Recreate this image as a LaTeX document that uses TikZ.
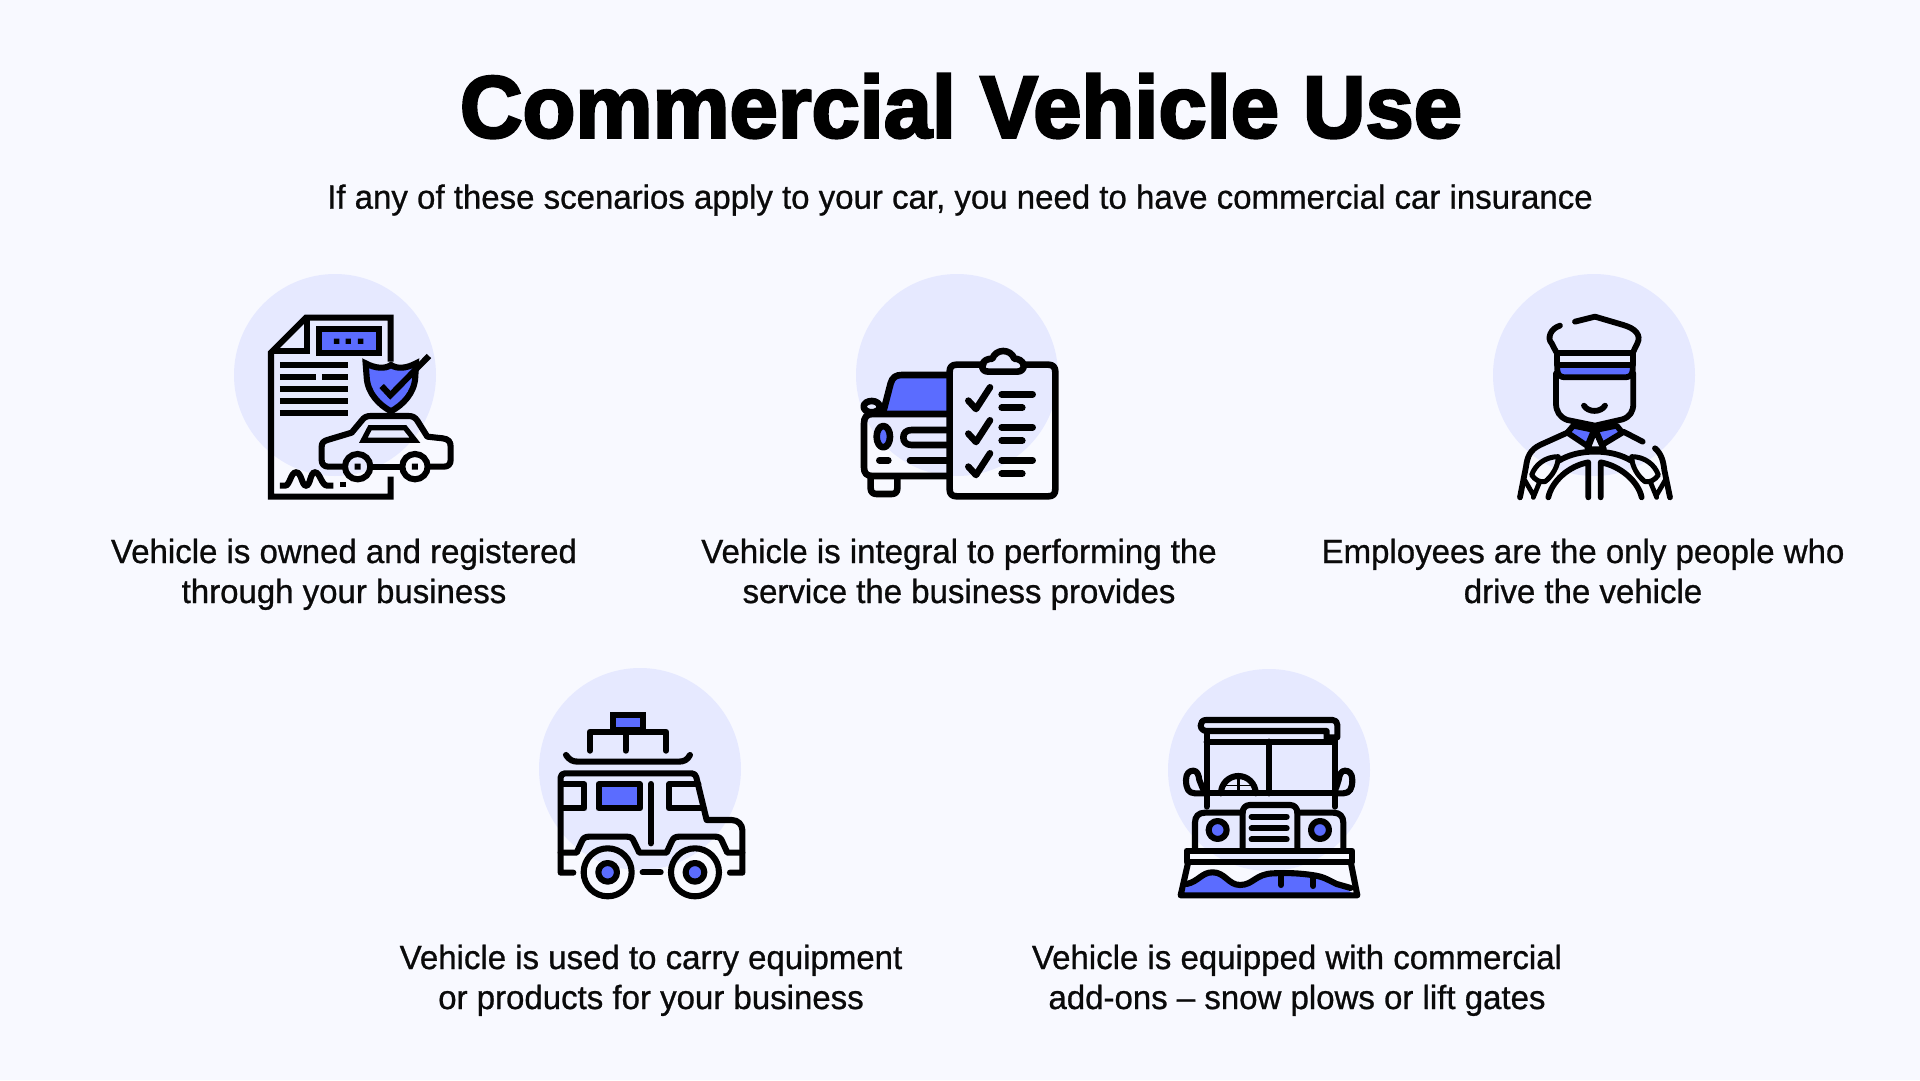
\documentclass[tikz,border=0pt]{standalone}
\usepackage{fontspec}
\setmainfont{Liberation Sans}
\newfontfamily\titlef[FakeBold=3,FakeStretch=0.985]{Liberation Sans Bold}
\newfontfamily\bodyf[FakeBold=0.8,FakeStretch=0.985]{Liberation Sans}
\definecolor{bgc}{HTML}{F8F9FF}
\definecolor{circ}{HTML}{E6E9FF}
\definecolor{blu}{HTML}{5B6CFF}
\definecolor{ink}{HTML}{0A0A0A}
\newcommand{\twolines}[2]{\strut #1\\\strut #2}
\tikzset{
 ico/.style={x=0.3333pt,y=-0.3333pt,line width=6.1pt,draw=black,line join=miter},
 rnd/.style={line cap=round,line join=round},
 blob/.style={circle,fill=circ,draw=none,minimum size=202pt,inner sep=0pt},
 ttl/.style={font=\titlef\fontsize{88}{88}\selectfont,text=black,inner sep=0pt},
 sub/.style={font=\bodyf\fontsize{33.5}{40}\selectfont,text=ink,inner sep=0pt},
 lab/.style={font=\bodyf\fontsize{33.5}{40}\selectfont,text=ink,align=center,inner sep=0pt},
}
\begin{document}
\begin{tikzpicture}[x=1pt,y=-1pt]
\useasboundingbox (0,0) rectangle (1920,1080);
\fill[bgc] (0,0) rectangle (1920,1080);
\node[ttl] (title) at (961,106) {Commercial Vehicle Use};
\node[sub] (subt) at (960,200) {If any of these scenarios apply to your car, you need to have commercial car insurance};
\node[blob] (c1) at (335,375) {};
\node[blob] (c2) at (957,375) {};
\node[blob] (c3) at (1594,375) {};
\node[blob] (c4) at (640,769) {};
\node[blob] (c5) at (1269,770) {};
\node[lab] (t1) at (344,575) {\twolines{Vehicle is owned and registered}{through your business}};
\node[lab] (t2) at (959,575) {\twolines{Vehicle is integral to performing the}{service the business provides}};
\node[lab] (t3) at (1583,575) {\twolines{Employees are the only people who}{drive the vehicle}};
\node[lab] (t4) at (651,981) {\twolines{Vehicle is used to carry equipment}{or products for your business}};
\node[lab] (t5) at (1297,981) {\twolines{Vehicle is equipped with commercial}{add-ons – snow plows or lift gates}};

% icon 1
\begin{scope}[shift={(220,260)},ico]
\draw (512,305) -- (512,173) -- (258,173) -- (153,278) -- (153,710) -- (512,710) -- (512,650);
\draw (262,173) -- (262,272) -- (153,272);
\draw[fill=blu] (296,206) rectangle (477,280);
\fill (342,236) rectangle (358,252) (377,236) rectangle (393,252) (414,236) rectangle (430,252);
\foreach \yy in {315,387,423,459} \draw (180,\yy) -- (385,\yy);
\draw (180,352) -- (288,352) (306,352) -- (385,352);
\draw[fill=blu] (437,310) .. controls (465,325) and (495,328) .. (513,315) .. controls (532,328) and (560,325) .. (588,310) -- (586,350) .. controls (584,400) and (548,435) .. (513,454) .. controls (478,435) and (442,400) .. (440,350) -- cycle;
\draw (485,378) -- (511,406) -- (627,288);
\draw[rnd] (375,620) -- (325,620) .. controls (312,620) and (305,612) .. (305,600) -- (305,560) .. controls (305,548) and (312,543) .. (322,540) -- (395,518) -- (425,482) .. controls (432,472) and (440,468) .. (452,468) -- (565,468) .. controls (578,468) and (585,472) .. (592,482) -- (622,530) -- (668,535) .. controls (685,537) and (692,545) .. (692,560) -- (692,600) .. controls (692,612) and (685,620) .. (672,620) -- (625,620);
\draw (455,620) -- (545,620);
\draw (413,620) circle[radius=38];
\draw (585,620) circle[radius=38];
\fill (404,611) rectangle (422,629) (576,611) rectangle (594,629);
\draw[line width=5.2pt] (430,541) -- (450,503) -- (555,503) -- (585,541) -- cycle;
\draw (180,677) -- (195,677) .. controls (210,677) and (212,637) .. (228,637) .. controls (245,637) and (245,677) .. (258,677) .. controls (272,677) and (270,637) .. (285,637) .. controls (300,637) and (305,677) .. (322,677) -- (340,677);
\fill (360,665) rectangle (377,682);
\end{scope}

% icon 2
\begin{scope}[shift={(840,260)},ico,line width=6.6pt,rnd]
\fill[blu] (130,457) -- (155,365) -- (180,345) -- (325,345) -- (325,457) -- cycle;
\draw (130,455) -- (152,370) .. controls (157,352) and (168,345) .. (185,345) -- (325,345);
\draw (325,462) -- (98,462) .. controls (80,462) and (72,472) .. (72,490) -- (72,622) .. controls (72,640) and (80,648) .. (98,648) -- (325,648);
\draw (95,440) ellipse[x radius=24,y radius=17];
\draw (92,650) -- (92,685) .. controls (92,697) and (100,702) .. (110,702) -- (155,702) .. controls (165,702) and (172,697) .. (172,685) -- (172,650);
\draw[fill=blu] (130,530) ellipse[x radius=20,y radius=32];
\draw (325,510) -- (215,510) .. controls (198,510) and (190,520) .. (190,532) .. controls (190,545) and (198,555) .. (215,555) -- (325,555);
\draw (118,601) -- (145,601) (210,601) -- (325,601);
\draw (430,314) -- (350,314) .. controls (335,314) and (329,322) .. (329,335) -- (329,688) .. controls (329,702) and (336,709) .. (350,709) -- (625,709) .. controls (639,709) and (646,702) .. (646,688) -- (646,335) .. controls (646,322) and (639,314) .. (625,314) -- (550,314);
\draw (445,335) .. controls (430,335) and (425,325) .. (427,315) .. controls (430,300) and (445,296) .. (457,296) .. controls (462,282) and (475,273) .. (490,273) .. controls (505,273) and (518,282) .. (523,296) .. controls (535,296) and (548,302) .. (551,315) .. controls (553,325) and (545,335) .. (532,335) -- cycle;
\foreach \dy in {0,99,198} {
 \draw ([yshift=-\dy*0.3333pt]385,422) -- ([yshift=-\dy*0.3333pt]408,447) -- ([yshift=-\dy*0.3333pt]450,382);
 \draw ([yshift=-\dy*0.3333pt]485,403) -- ([yshift=-\dy*0.3333pt]578,403);
 \draw ([yshift=-\dy*0.3333pt]485,443) -- ([yshift=-\dy*0.3333pt]547,443);
}
\end{scope}

% icon 3
\begin{scope}[shift={(1480,260)},ico,line width=5.8pt,rnd]
\draw (285,185) -- (345,170) -- (430,195) .. controls (465,205) and (485,225) .. (472,250) -- (460,275);
\draw (240,197) .. controls (212,205) and (200,235) .. (215,250) -- (228,275);
\draw (230,278) -- (458,278);
\draw[fill=blu] (232,315) -- (458,315) -- (458,330) .. controls (458,345) and (448,352) .. (435,352) -- (255,352) .. controls (242,352) and (232,345) .. (232,330) -- cycle;
\draw (232,278) -- (232,315) (458,278) -- (458,315);
\draw (228,340) -- (228,430) .. controls (228,455) and (240,472) .. (262,480) -- (345,497) -- (428,478) .. controls (450,470) and (460,455) .. (460,430) -- (460,340);
\draw (312,437) .. controls (325,458) and (362,458) .. (375,437);
\draw[fill=blu] (262,518) -- (280,497) -- (342,510) -- (322,558) -- cycle;
\draw[fill=blu] (427,518) -- (410,497) -- (347,510) -- (366,555) -- cycle;
\draw (345,510) -- (322,568) -- (372,568) -- cycle;
\draw (262,518) -- (180,555) .. controls (150,570) and (142,590) .. (138,620) -- (120,712);
\draw (430,515) -- (488,545);
\draw (525,565) .. controls (545,582) and (550,605) .. (553,630) -- (570,712);
\draw (235,603) .. controls (265,585) and (300,575) .. (345,575) .. controls (390,575) and (425,585) .. (455,603);
\draw (205,712) .. controls (215,665) and (265,618) .. (325,607) -- (325,712);
\draw (485,712) .. controls (475,665) and (422,618) .. (362,607) -- (362,712);
\draw[line width=5pt] (155,645) .. controls (165,615) and (195,590) .. (235,590) .. controls (235,620) and (215,650) .. (195,665) .. controls (180,668) and (165,660) .. (155,645) -- cycle;
\draw[line width=5pt] (535,645) .. controls (525,615) and (495,590) .. (455,590) .. controls (455,620) and (475,650) .. (495,665) .. controls (510,668) and (525,660) .. (535,645) -- cycle;
\draw[line width=4.8pt] (135,662) -- (160,705) (178,668) -- (160,712);
\draw[line width=4.8pt] (555,662) -- (530,705) (512,668) -- (530,712);
\end{scope}

% icon 4
\begin{scope}[shift={(530,660)},ico,line width=6.1pt,rnd]
\draw[fill=blu,line join=miter] (250,165) rectangle (340,210);
\draw (180,272) -- (180,215) -- (408,215) -- (408,272) (287,215) -- (287,272);
\draw (108,285) .. controls (118,300) and (128,305) .. (145,305) -- (445,305) .. controls (462,305) and (472,300) .. (480,285);
\draw (130,638) -- (92,638) -- (92,352) .. controls (92,345) and (98,340) .. (105,340) -- (485,340) .. controls (493,340) and (497,345) .. (499,352) -- (530,480) -- (605,480) .. controls (625,480) and (637,495) .. (637,510) -- (637,638) -- (600,638);
\draw (100,373) -- (163,373) -- (163,445) -- (100,445);
\draw[fill=blu] (206,373) rectangle (330,445);
\draw (505,373) -- (417,373) -- (417,445) -- (520,445);
\draw (363,372) -- (363,550);
\draw (92,578) -- (140,578) -- (155,545) .. controls (160,534) and (165,530) .. (178,530) -- (290,530) .. controls (302,530) and (308,534) .. (312,545) -- (328,578) -- (410,578) -- (425,545) .. controls (430,534) and (435,530) .. (448,530) -- (555,530) .. controls (567,530) and (573,534) .. (577,545) -- (592,578) -- (637,578);
\draw (233,637) circle[radius=72];
\draw (495,637) circle[radius=72];
\draw[fill=blu] (233,637) circle[radius=28];
\draw[fill=blu] (495,637) circle[radius=28];
\draw (338,637) -- (392,637);
\end{scope}

% icon 5
\begin{scope}[shift={(1160,660)},ico,line width=6.1pt,rnd]
\draw (505,232) -- (532,232) -- (532,195) .. controls (532,186) and (527,180) .. (518,180) -- (138,180) .. controls (128,180) and (122,187) .. (122,196) .. controls (122,206) and (130,213) .. (140,213) -- (500,213) -- (500,240);
\draw (140,213) -- (140,440) (525,235) -- (525,440);
\draw (140,245) -- (525,245);
\draw (327,245) -- (327,400);
\draw (135,400) -- (525,400);
\draw (135,400) -- (105,400) .. controls (85,400) and (78,385) .. (78,360) .. controls (78,340) and (88,332) .. (100,332) .. controls (112,332) and (116,345) .. (118,360) -- (128,385);
\draw (525,400) -- (550,400) .. controls (570,400) and (577,385) .. (577,360) .. controls (577,340) and (567,332) .. (555,332) .. controls (543,332) and (538,345) .. (536,360) -- (528,385);
\draw (183,400) arc[start angle=180,end angle=360,radius=52];
\draw[line width=3pt,line cap=butt] (235,348) -- (235,400);
\draw[line width=1.2pt,line cap=butt] (192,376) -- (278,376);
\draw (248,565) -- (248,458) .. controls (248,445) and (256,435) .. (270,435) -- (390,435) .. controls (404,435) and (412,445) .. (412,458) -- (412,565);
\draw (275,470) -- (380,470) (275,505) -- (380,505) (275,538) -- (380,538);
\draw (248,458) -- (135,458) .. controls (115,458) and (105,470) .. (105,488) -- (105,565);
\draw (412,458) -- (520,458) .. controls (540,458) and (550,470) .. (550,488) -- (550,565);
\draw[fill=blu] (173,510) circle[radius=27];
\draw[fill=blu] (480,510) circle[radius=27];
\fill[blu] (70,705) -- (80,672) .. controls (115,665) and (125,637) .. (158,637) .. controls (195,637) and (205,675) .. (240,675) .. controls (280,675) and (285,642) .. (340,640) .. controls (385,638) and (420,640) .. (455,645) .. controls (490,650) and (495,660) .. (535,670) -- (585,705) -- cycle;
\draw (80,672) .. controls (115,665) and (125,637) .. (158,637) .. controls (195,637) and (205,675) .. (240,675) .. controls (280,675) and (285,642) .. (340,640) .. controls (385,638) and (420,640) .. (455,645) .. controls (490,650) and (495,655) .. (530,672) -- (572,684);
\draw (363,645) -- (363,675) (460,648) -- (460,678);
\draw[line join=round] (80,572) -- (576,572) -- (576,605) -- (80,605) -- cycle;
\draw (85,605) -- (62,706) -- (592,706) -- (572,605);
\end{scope}
\end{tikzpicture}
\end{document}
